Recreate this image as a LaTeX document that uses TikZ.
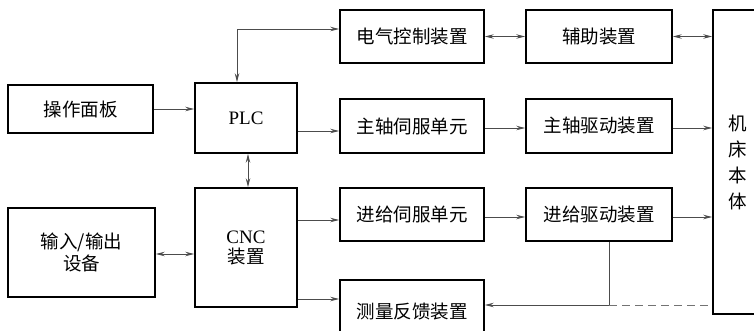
\documentclass[tikz,border=0pt]{standalone}
\usepackage{fontspec}
\setmainfont{Liberation Serif}
\newfontfamily\cjk{Noto Sans CJK SC}
\usetikzlibrary{arrows.meta}
\begin{document}
\begin{tikzpicture}[x=1pt,y=-1pt,
  box/.style={draw=black,line width=1.6pt,rectangle,inner sep=0pt,align=center,
    font=\fontsize{18.5}{20}\selectfont\cjk},
  conn/.style={draw=black!70,line width=0.8pt},
  arr/.style={conn,-{Stealth[length=9pt,width=4.5pt,inset=3pt]}},
  darr/.style={conn,{Stealth[length=9pt,width=4.5pt,inset=3pt]}-{Stealth[length=9pt,width=4.5pt,inset=3pt]}},
  dashline/.style={draw=black!55,line width=0.8pt,dash pattern=on 8pt off 5pt}]
\useasboundingbox (0,0) rectangle (754,331);
\clip (0,0) rectangle (754,331);
\node[box,minimum width=145pt,minimum height=48pt] (panel) at (80.5,109) {操作面板};
\node[box,minimum width=102pt,minimum height=70pt] (plc) at (246,118) {\rmfamily\fontsize{19}{20}\selectfont PLC};
\node[box,minimum width=144pt,minimum height=53pt] (ctrl) at (412,36.5) {电气控制装置};
\node[box,minimum width=146pt,minimum height=53pt] (aux) at (599,36.5) {辅助装置};
\node[box,minimum width=144pt,minimum height=54pt] (spsrv) at (412,126) {主轴伺服单元};
\node[box,minimum width=146pt,minimum height=54pt] (spdrv) at (599,126) {主轴驱动装置};
\node[box,minimum width=102pt,minimum height=119pt] (cnc) at (246,247.5) {{\rmfamily\fontsize{19}{20}\selectfont CNC}\\装置};
\node[box,minimum width=147pt,minimum height=89pt,font=\fontsize{18.5}{21.5}\selectfont\cjk] (io) at (81.5,252.5) {输入/输出\\设备};
\node[box,minimum width=144pt,minimum height=53pt] (fdsrv) at (412,214.5) {进给伺服单元};
\node[box,minimum width=146pt,minimum height=53pt] (fddrv) at (599,214.5) {进给驱动装置};
\node[box,minimum width=144pt,minimum height=64pt] (meas) at (412,312) {测量反馈装置};
\node[box,minimum width=50pt,minimum height=304pt,font=\fontsize{18.5}{26}\selectfont\cjk] (machine) at (738,162) {机\\床\\本\\体};
% connectors
\draw[arr] (panel.east) -- (panel.east -| plc.west);
\draw[darr] ([xshift=-9pt]plc.north) |- ([yshift=7.5pt]ctrl.west);
\draw[darr] (ctrl.east) -- (aux.west);
\draw[darr] (aux.east) -- (aux.east -| machine.west);
\draw[arr] ([yshift=-5pt]spsrv.west -| plc.east) -- ([yshift=-5pt]spsrv.west);
\draw[arr] ([yshift=-2pt]spsrv.east) -- ([yshift=-2pt]spdrv.west);
\draw[arr] ([yshift=-2pt]spdrv.east) -- ([yshift=-2pt]spdrv.east -| machine.west);
\draw[darr] ([xshift=2pt]plc.south) -- ([xshift=2pt]cnc.north);
\draw[darr] ([yshift=-1.5pt]io.east) -- ([yshift=-1.5pt]io.east -| cnc.west);
\draw[arr] ([yshift=-5.5pt]fdsrv.west -| cnc.east) -- ([yshift=-5.5pt]fdsrv.west);
\draw[arr] ([yshift=-2.5pt]fdsrv.east) -- ([yshift=-2.5pt]fddrv.west);
\draw[arr] ([yshift=-2.5pt]fddrv.east) -- ([yshift=-2.5pt]fddrv.east -| machine.west);
\draw[arr] ([yshift=13pt]meas.west -| cnc.east) -- ([yshift=13pt]meas.west);
\coordinate (fb) at (609,305);
\draw[conn] (fddrv.south -| fb) -- (fb);
\draw[arr] (fb) -- (fb -| meas.east);
\draw[dashline] (fb) -- (fb -| machine.west);
\end{tikzpicture}
\end{document}
